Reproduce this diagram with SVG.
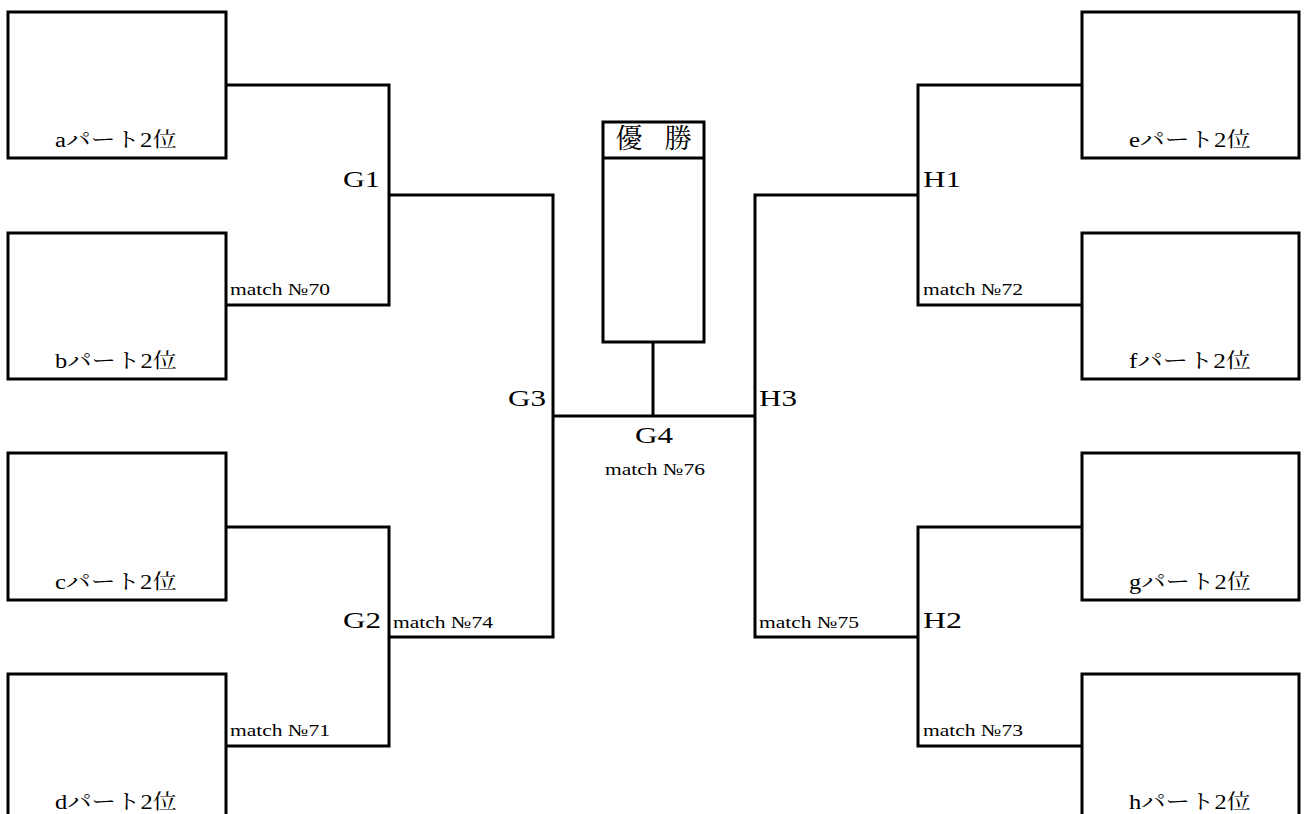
<svg xmlns="http://www.w3.org/2000/svg" width="1306" height="814" viewBox="0 0 1306 814">
<style>
.box{fill:#fff;stroke:#000;stroke-width:3}
.ln{fill:none;stroke:#000;stroke-width:3}
.t{font-family:'Liberation Serif','DejaVu Serif','Noto Serif CJK JP','Noto Sans CJK JP',serif;fill:#000}
.lbl{font-size:20px}
.g{font-size:23px}
.m{font-size:17px}
</style>
<rect width="1306" height="814" fill="#fff"/>
<g id="connectors">
<polyline class="ln" points="226,85 389,85 389,305 226,305"/>
<polyline class="ln" points="226,527 389,527 389,746 226,746"/>
<polyline class="ln" points="389,195 553,195 553,637 389,637"/>
<polyline class="ln" points="1082,85 918,85 918,305 1082,305"/>
<polyline class="ln" points="1082,527 918,527 918,746 1082,746"/>
<polyline class="ln" points="918,195 755,195 755,637 918,637"/>
<line class="ln" x1="553" y1="416" x2="755" y2="416"/>
<line class="ln" x1="653" y1="342" x2="653" y2="416"/>
</g>
<g id="node-a"><rect class="box" x="8" y="12" width="218" height="146"/><text class="t lbl" x="55" y="147" textLength="122" lengthAdjust="spacingAndGlyphs">aパート2位</text></g>
<g id="node-b"><rect class="box" x="8" y="233" width="218" height="146"/><text class="t lbl" x="55" y="368" textLength="122" lengthAdjust="spacingAndGlyphs">bパート2位</text></g>
<g id="node-c"><rect class="box" x="8" y="453" width="218" height="147"/><text class="t lbl" x="55" y="589" textLength="122" lengthAdjust="spacingAndGlyphs">cパート2位</text></g>
<g id="node-d"><rect class="box" x="8" y="674" width="218" height="150"/><text class="t lbl" x="55" y="809" textLength="122" lengthAdjust="spacingAndGlyphs">dパート2位</text></g>
<g id="node-e"><rect class="box" x="1082" y="12" width="217" height="146"/><text class="t lbl" x="1129" y="147" textLength="122" lengthAdjust="spacingAndGlyphs">eパート2位</text></g>
<g id="node-f"><rect class="box" x="1082" y="233" width="217" height="146"/><text class="t lbl" x="1129" y="368" textLength="122" lengthAdjust="spacingAndGlyphs">fパート2位</text></g>
<g id="node-g"><rect class="box" x="1082" y="453" width="217" height="147"/><text class="t lbl" x="1129" y="589" textLength="122" lengthAdjust="spacingAndGlyphs">gパート2位</text></g>
<g id="node-h"><rect class="box" x="1082" y="674" width="217" height="150"/><text class="t lbl" x="1129" y="809" textLength="122" lengthAdjust="spacingAndGlyphs">hパート2位</text></g>
<g id="node-winner">
<rect class="box" x="603" y="122" width="101" height="220"/>
<line class="ln" x1="603" y1="158" x2="704" y2="158"/>
<text class="t" x="629" y="148" font-size="27" text-anchor="middle">優</text>
<text class="t" x="678" y="148" font-size="27" text-anchor="middle">勝</text>
</g>
<g id="labels">
<text class="t g" x="343" y="187" textLength="37" lengthAdjust="spacingAndGlyphs">G1</text>
<text class="t g" x="343" y="628" textLength="38" lengthAdjust="spacingAndGlyphs">G2</text>
<text class="t g" x="508" y="406" textLength="38" lengthAdjust="spacingAndGlyphs">G3</text>
<text class="t g" x="635" y="443" textLength="38" lengthAdjust="spacingAndGlyphs">G4</text>
<text class="t g" x="923" y="187" textLength="38" lengthAdjust="spacingAndGlyphs">H1</text>
<text class="t g" x="923" y="628" textLength="39" lengthAdjust="spacingAndGlyphs">H2</text>
<text class="t g" x="759" y="406" textLength="38" lengthAdjust="spacingAndGlyphs">H3</text>
<text class="t m" x="230" y="295" textLength="100" lengthAdjust="spacingAndGlyphs">match №70</text>
<text class="t m" x="230" y="736" textLength="100" lengthAdjust="spacingAndGlyphs">match №71</text>
<text class="t m" x="923" y="295" textLength="100" lengthAdjust="spacingAndGlyphs">match №72</text>
<text class="t m" x="923" y="736" textLength="100" lengthAdjust="spacingAndGlyphs">match №73</text>
<text class="t m" x="393" y="628" textLength="100" lengthAdjust="spacingAndGlyphs">match №74</text>
<text class="t m" x="759" y="628" textLength="100" lengthAdjust="spacingAndGlyphs">match №75</text>
<text class="t m" x="605" y="475" textLength="100" lengthAdjust="spacingAndGlyphs">match №76</text>
</g>
</svg>
